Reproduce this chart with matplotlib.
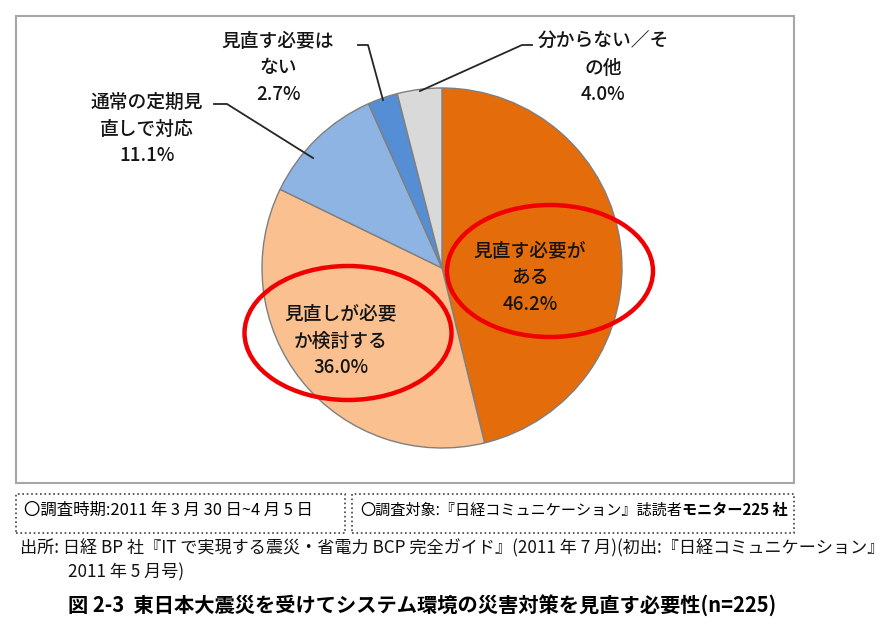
import matplotlib
matplotlib.use("Agg")
import matplotlib.pyplot as plt
from matplotlib.patches import Rectangle, Ellipse

plt.rcParams['font.family'] = ['Noto Sans CJK JP', 'DejaVu Sans']

# ---- data ----
categories = ["見直す必要が\nある", "見直しが必要\nか検討する", "通常の定期見\n直しで対応",
              "見直す必要は\nない", "分からない／そ\nの他"]
values = [46.2, 36.0, 11.1, 2.7, 4.0]
colors = ["#E46C0A", "#FAC090", "#8EB4E3", "#558ED5", "#D9D9D9"]

box1_text = "〇調査時期:2011 年 3 月 30 日~4 月 5 日"
box2_text_a = "〇調査対象:『日経コミュニケーション』誌読者"
box2_text_b = "モニター225 社"
source_line1 = "出所: 日経 BP 社『IT で実現する震災・省電力 BCP 完全ガイド』(2011 年 7 月)(初出:『日経コミュニケーション』"
source_line2 = "2011 年 5 月号)"
title = "図 2-3  東日本大震災を受けてシステム環境の災害対策を見直す必要性(n=225)"

W, H = 896, 629
fig = plt.figure(figsize=(W / 100, H / 100), dpi=100)
ax = fig.add_axes([0, 0, 1, 1])
ax.set_xlim(0, W)
ax.set_ylim(0, H)
ax.set_aspect('equal')
ax.axis('off')

def Y(y):
    return H - y

# chart frame
ax.add_patch(Rectangle((16, Y(483)), 778, 467, fill=False, edgecolor="#A6A6A6", lw=1.5))

# pie
cx, cy, r = 442, Y(268), 180
wedges, _ = ax.pie(values, colors=colors, startangle=90, counterclock=False,
                   center=(cx, cy), radius=r,
                   wedgeprops=dict(edgecolor="#7F7F7F", linewidth=1.0))
ax.set_xlim(0, W)
ax.set_ylim(0, H)

lab_fs = 13.5
txt_col = "#141414"

def label(i, x, y):
    ax.text(x, Y(y), categories[i] + "\n" + f"{values[i]:.1f}%", ha='center', va='center',
            fontsize=lab_fs, color=txt_col, linespacing=1.5, fontweight='medium')

label(0, 530, 278)
label(1, 341, 341)
label(2, 147, 129)
label(3, 278, 68)
label(4, 603, 68)

# leader lines
lc = "#262626"
ax.plot([358, 368, 383], [Y(45), Y(45), Y(100)], color=lc, lw=1.3)
ax.plot([532, 522, 420], [Y(45), Y(45), Y(91)], color=lc, lw=1.3)
ax.plot([214, 227, 313], [Y(104), Y(104), Y(158)], color=lc, lw=1.3)

# red ellipses
ax.add_patch(Ellipse((550, Y(271)), 206, 132, fill=False, edgecolor="#F00000", lw=3.2))
ax.add_patch(Ellipse((348, Y(333)), 207, 134, fill=False, edgecolor="#F00000", lw=3.2))

# dotted boxes
ax.add_patch(Rectangle((16, Y(533)), 329, 39, fill=False, edgecolor="#404040", lw=1.2, linestyle=':'))
ax.add_patch(Rectangle((352, Y(533)), 442, 39, fill=False, edgecolor="#404040", lw=1.2, linestyle=':'))
ax.text(24, Y(510), box1_text, ha='left', va='center', fontsize=11.8, color="#000000")
t2 = ax.text(360, Y(510), box2_text_a, ha='left', va='center', fontsize=10.9, color="#000000")
ax.annotate(box2_text_b, xy=(1, 0.5), xycoords=t2, ha='left', va='center',
            fontsize=10.9, fontweight='bold', color="#000000")

# source
ax.text(20, Y(548), source_line1, ha='left', va='center', fontsize=12.3, color="#111111")
ax.text(68, Y(572), source_line2, ha='left', va='center', fontsize=12.3, color="#111111")

# title
ax.text(68, Y(605), title, ha='left', va='center', fontsize=14.6, fontweight='bold', color="#000000")

fig.savefig("out.png", dpi=100)
